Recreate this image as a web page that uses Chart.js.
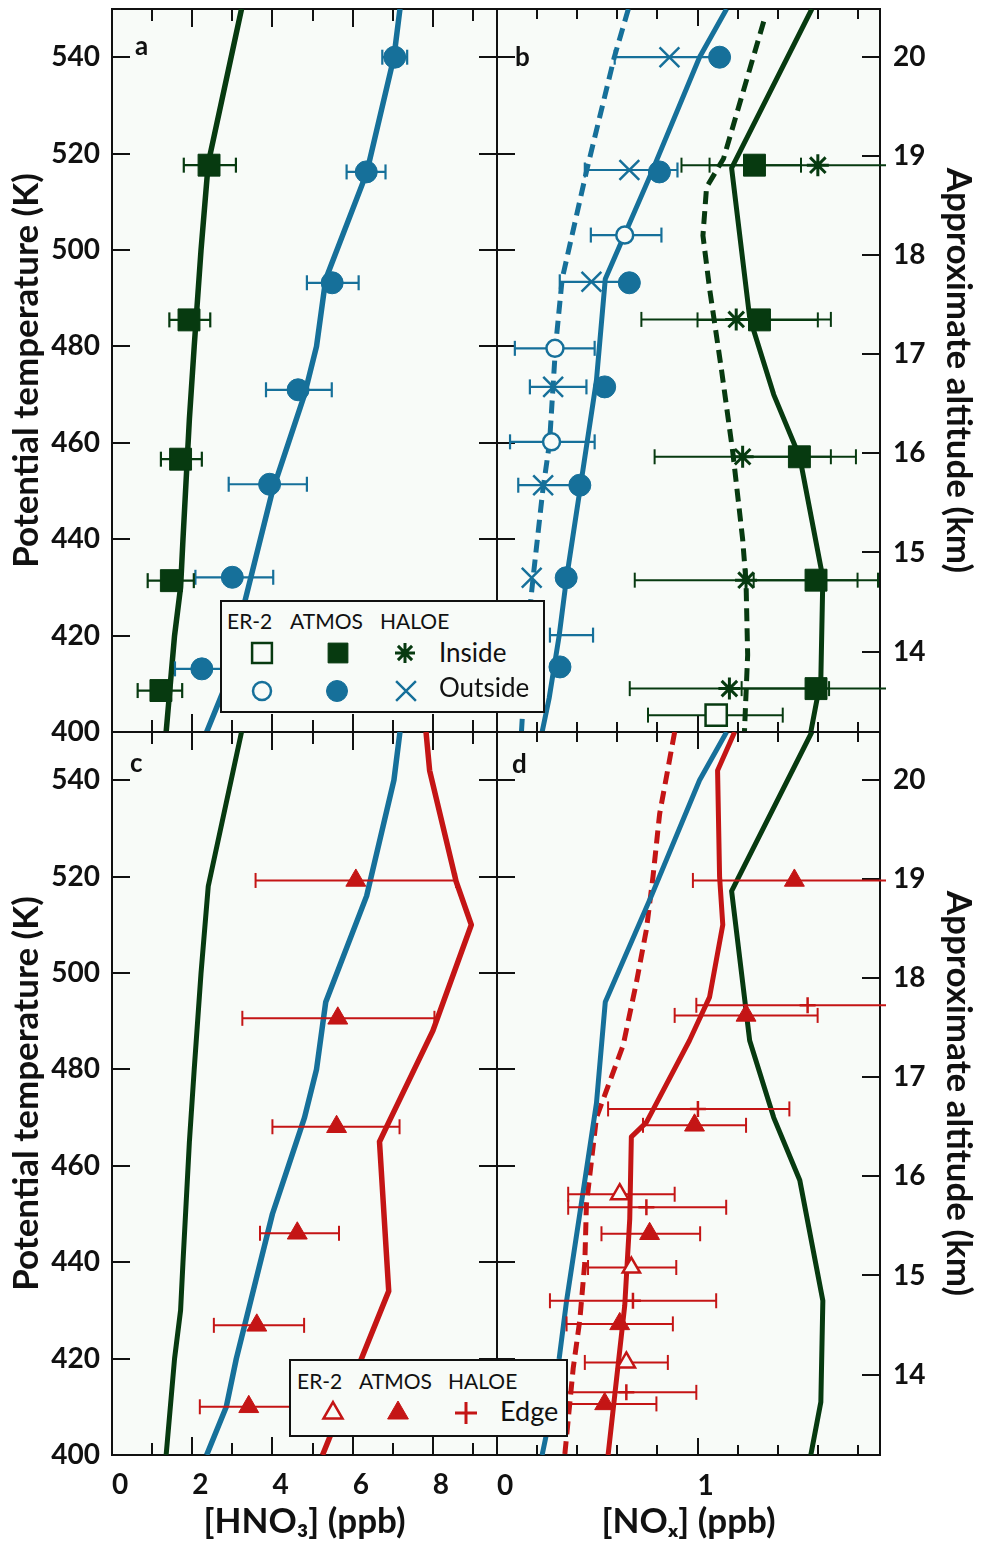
<!DOCTYPE html>
<html><head><meta charset="utf-8">
<script src="https://cdn.jsdelivr.net/npm/chart.js@4.4.1/dist/chart.umd.min.js"></script>
<style>
html,body{margin:0;padding:0;background:#fff;}
#wrap{position:relative;width:983px;height:1545px;overflow:hidden;}
#wrap canvas.panel{position:absolute;left:0;top:0;}
.t{position:absolute;white-space:nowrap;line-height:1;color:#111;font-family:Lato,"DejaVu Sans",sans-serif;transform:translateY(-50%);}
.lg{position:absolute;box-sizing:border-box;border:2px solid #111;background:#f8fbf8;}
</style></head><body>
<div id="wrap">
<canvas id="pa" class="panel" width="983" height="1545"></canvas>
<canvas id="pb" class="panel" width="983" height="1545"></canvas>
<canvas id="pc" class="panel" width="983" height="1545"></canvas>
<canvas id="pd" class="panel" width="983" height="1545"></canvas>
</div>
<script>
// ---------- axis ticks ----------
const thetaTicks = [400, 420, 440, 460, 480, 500, 520, 540];
const altTicks = [14, 15, 16, 17, 18, 19, 20];
const hno3MajorTicks = [2, 4, 6, 8];
const hno3LabelTicks = [0, 2, 4, 6, 8];
const hno3MinorTicks = [1, 3, 5, 7, 9];
const noxMajorTicks = [1];
const noxLabelTicks = [0, 1];
const noxMinorTicks = [0.2, 0.4, 0.6, 0.8, 1.2, 1.4, 1.6, 1.8];

// ---------- HNO3 (ppb) profiles: [theta K, value] ----------
const hno3AtmosInsideLine = [[550,3.23],[518,2.40],[500,2.22],[480,2.05],[465,1.93],[440,1.77],[430,1.71],[420,1.56],[400,1.35]];
const hno3AtmosOutsideLine = [[550,7.18],[540,7.03],[516,6.35],[494,5.33],[480,5.10],[470,4.80],[460,4.40],[450,4.00],[440,3.70],[420,3.10],[410,2.85],[400,2.36]];
const hno3AtmosEdgeLine = [[550,7.83],[542,7.92],[519,8.58],[510,8.96],[488,8.00],[469,6.90],[465,6.67],[434,6.90],[400,5.25]];
// markers: [theta, value, low, high]
const hno3AtmosInsidePts = [[517.6,2.42,1.79,3.09],[485.5,1.92,1.43,2.45],[456.6,1.71,1.22,2.24],[431.4,1.48,0.89,2.04],[408.6,1.22,0.64,1.75]];
const hno3AtmosOutsidePts = [[540,7.05,6.74,7.36],[516.2,6.34,5.85,6.82],[493.2,5.49,4.86,6.15],[471.0,4.64,3.84,5.48],[451.4,3.93,2.91,4.86],[432.1,3.00,2.08,4.02],[413.1,2.24,1.57,2.91]];
const hno3AtmosEdgePts = [[519.2,6.08,3.58,8.58],[490.6,5.63,3.25,8.04],[468.1,5.60,4.00,7.17],[446.0,4.62,3.69,5.66],[426.9,3.61,2.54,4.79],[410.0,3.41,2.19,4.63]];

// ---------- NOx (ppb) profiles ----------
const noxAtmosInsideLine = [[550,1.57],[517,1.17],[486,1.26],[470,1.38],[457,1.51],[432,1.625],[411,1.615],[400,1.565]];
const noxHaloeInsideLine = [[547.4,1.33],[519,1.13],[513,1.045],[503,1.027],[492,1.06],[475,1.12],[458,1.176],[440,1.225],[431,1.242],[416,1.25],[400,1.234]];
const noxAtmosOutsideLine = [[550,1.145],[540,1.01],[516,0.77],[494,0.54],[473,0.496],[452,0.42],[432,0.347],[420,0.31],[407,0.26],[400,0.225]];
const noxHaloeOutsideLine = [[550,0.655],[540,0.585],[517,0.45],[494,0.325],[480,0.292],[470,0.277],[460,0.262],[450,0.228],[432,0.18],[420,0.15],[400,0.122]];
const noxAtmosEdgeLine = [[550,1.185],[542,1.10],[520,1.11],[510,1.126],[495,1.06],[486,0.96],[469,0.745],[466,0.67],[449,0.662],[431,0.637],[400,0.554]];
const noxHaloeEdgeLine = [[550,0.886],[533,0.811],[520,0.778],[509,0.745],[498,0.695],[485,0.629],[470,0.496],[452,0.446],[440,0.438],[428,0.413],[418,0.38],[400,0.338]];
const noxAtmosInsidePts = [[517.6,1.284,1.06,1.516],[485.5,1.309,1.00,1.60],[457.1,1.508,1.226,1.79],[431.5,1.591,1.28,1.90],[409.0,1.591,1.22,1.96]];
const noxHaloeInsidePts = [[517.6,1.60,0.92,2.28],[485.6,1.193,0.72,1.665],[457.1,1.225,0.786,1.665],[431.5,1.242,0.687,1.798],[409.0,1.159,0.662,1.656]];
const noxEr2InsidePts = [[403.5,1.093,0.753,1.425]];
const noxAtmosOutsidePts = [[540,1.11,null,null],[516.2,0.81,null,null],[493.2,0.66,null,null],[471.6,0.537,null,null],[451.2,0.413,null,null],[432,0.345,null,null],[413.5,0.314,null,null]];
const noxHaloeOutsidePts = [[540,0.86,0.587,1.13],[516.6,0.66,0.438,0.90],[493.4,0.471,0.313,0.63],[471.6,0.28,0.164,0.446],[451.2,0.23,0.106,0.40],[432,0.173,null,null]];
const noxEr2OutsidePts = [[503.1,0.637,0.468,0.82],[479.6,0.289,0.089,0.487],[460.2,0.272,0.065,0.487],[420.1,null,0.264,0.479]];
const noxAtmosEdgePts = [[519.2,1.483,0.977,1.99],[491.2,1.242,0.886,1.599],[468.4,0.985,0.728,1.242],[445.9,0.761,0.521,1.013],[427.2,0.612,0.347,0.877],[410.6,0.537,0.28,0.795]];
const noxEr2EdgePts = [[454.1,0.612,0.355,0.886],[438.9,0.67,0.454,0.894],[419.2,0.645,0.438,0.852]];
const noxHaloeEdgePts = [[493.3,1.549,0.994,2.10],[471.8,1.002,0.554,1.458],[451.4,0.745,0.355,1.143],[432.0,0.678,0.264,1.093],[413.0,0.645,0.296,0.994]];

// ---------- styling ----------
const GREEN = '#073a10', BLUE = '#16709a', RED = '#c41515', BLACK = '#111', PLOT_BG = '#f8fbf8';
const FONT = 'Lato, "DejaVu Sans", sans-serif';
const TICK_FONT = { family: FONT, size: 28, weight: 'bold', lineHeight: 1.2 };
const TITLE_FONT = { family: FONT, size: 35, weight: 'bold', lineHeight: 1.2 };

function mkAxis(o) {
  const horiz = o.position === 'top' || o.position === 'bottom';
  return {
    type: 'linear', position: o.position, axis: horiz ? 'x' : 'y',
    min: o.min, max: o.max, weight: o.weight || 0,
    afterBuildTicks: s => { s.ticks = o.ticks.map(v => ({ value: v })); },
    afterFit: s => {
      if (horiz) s.height = o.size || 0; else s.width = o.size || 0;
      s.paddingTop = 0; s.paddingBottom = 0; s.paddingLeft = 0; s.paddingRight = 0;
    },
    grid: { display: true, drawOnChartArea: false, drawTicks: true, tickLength: -o.len, tickColor: BLACK, tickWidth: 2, color: BLACK, lineWidth: 2 },
    border: { display: true, color: BLACK, width: 2 },
    ticks: o.labels ? { display: true, autoSkip: false, maxRotation: 0, minRotation: 0, padding: o.pad, align: o.align || 'center', color: BLACK, font: TICK_FONT, callback: v => String(v) } : { display: false },
    title: o.title ? { display: true, text: o.title, color: BLACK, font: TITLE_FONT, padding: o.tpad } : { display: false }
  };
}

function scalesFor(kind, row) {
  const isH = kind === 'hno3';
  const xr = isH ? { min: 0, max: 9.6 } : { min: 0, max: 1.91 };
  const major = isH ? hno3MajorTicks : noxMajorTicks;
  const labelT = isH ? hno3LabelTicks : noxLabelTicks;
  const minor = isH ? hno3MinorTicks : noxMinorTicks;
  const majLen = isH ? 18 : 17, minLen = isH ? 12 : 10;
  const lab = row === 'bottom';
  const s = {};
  s.x = mkAxis({ position: 'bottom', ...xr, ticks: lab ? labelT : major, len: majLen, size: lab ? 90 : 0, labels: lab, pad: 31, align: 'start',
    title: lab ? (isH ? '[HNO\u2083] (ppb)' : '[NO\u2093] (ppb)') : null, tpad: { top: 0, bottom: 2 }, weight: 1 });
  s.xb2 = mkAxis({ position: 'bottom', ...xr, ticks: minor, len: minLen, weight: 0 });
  s.xt1 = mkAxis({ position: 'top', ...xr, ticks: major, len: majLen });
  s.xt2 = mkAxis({ position: 'top', ...xr, ticks: minor, len: minLen });
  if (isH) {
    s.y = mkAxis({ position: 'left', min: 400, max: 550, ticks: thetaTicks, len: 18, size: 112, labels: true, pad: 30,
      title: 'Potential temperature (K)', tpad: { top: 6, bottom: 0 } });
    s.yr = mkAxis({ position: 'right', min: 400, max: 550, ticks: thetaTicks, len: 18 });
  } else {
    s.y = mkAxis({ position: 'left', min: 400, max: 550, ticks: thetaTicks, len: 18 });
    s.alt = mkAxis({ position: 'right', min: 13.19, max: 20.48, ticks: altTicks, len: 18, size: 103, labels: true, pad: 31,
      title: 'Approximate altitude (km)', tpad: { top: 4, bottom: 0 } });
  }
  return s;
}

const ln = arr => arr.map(p => ({ x: p[1], y: p[0] }));
const pt = arr => arr.filter(p => p[1] != null).map(p => ({ x: p[1], y: p[0] }));
const errs = arr => { const out = []; arr.forEach(p => { if (p[2] == null) return; out.push({ x: p[2], y: p[0] }, { x: p[3], y: p[0] }, { x: null, y: null }); }); return out; };

function lineDS(arr, color, dashed, w) {
  return { data: ln(arr), showLine: true, borderColor: color, borderWidth: w || 5, borderDash: dashed ? [13, 7] : [],
    pointRadius: 0, fill: false, order: 3, borderJoinStyle: 'round', borderCapStyle: 'butt', clip: 0 };
}
function barDS(arr, color, w) {
  return { data: errs(arr), showLine: true, spanGaps: false, borderColor: color, borderWidth: w || 2,
    pointStyle: 'line', pointRotation: 90, pointRadius: 7.5, pointBorderColor: color, pointBorderWidth: w || 2,
    pointBackgroundColor: color, order: 2, clip: { left: 0, top: 10, right: 6, bottom: 10 } };
}
function markDS(arr, style, r, fill, stroke, bw) {
  return { data: pt(arr), showLine: false, pointStyle: style, pointRadius: r, pointBackgroundColor: fill,
    pointBorderColor: stroke, pointBorderWidth: bw, order: 1, clip: false };
}

const bgPlugin = { id: 'plotbg', beforeDraw(chart) { const { ctx, chartArea: a } = chart; ctx.save(); ctx.fillStyle = PLOT_BG; ctx.fillRect(a.left, a.top, a.right - a.left, a.bottom - a.top); ctx.restore(); } };

function makeChart(id, datasets, scales, padding) {
  return new Chart(document.getElementById(id), {
    type: 'scatter',
    data: { datasets },
    options: {
      responsive: false, animation: false, events: [],
      plugins: { legend: { display: false }, tooltip: { enabled: false } },
      layout: { autoPadding: false, padding },
      scales
    },
    plugins: [bgPlugin]
  });
}

const wrap = document.getElementById('wrap');
function txt(s, x, y, size, weight) {
  const d = document.createElement('div'); d.className = 't'; d.textContent = s;
  d.style.left = x + 'px'; d.style.top = y + 'px'; d.style.fontSize = size + 'px'; d.style.fontWeight = weight || 400;
  wrap.appendChild(d); return d;
}
function box(x, y, w, h) { const d = document.createElement('div'); d.className = 'lg'; d.style.cssText = `left:${x}px;top:${y}px;width:${w}px;height:${h}px;`; wrap.appendChild(d); }
function sym(x, y, style, r, fill, stroke, bw) {
  const c = document.createElement('canvas'); c.width = 44; c.height = 44;
  c.style.cssText = `position:absolute;left:${x - 22}px;top:${y - 22}px;`;
  const ctx = c.getContext('2d'); ctx.fillStyle = fill; ctx.strokeStyle = stroke; ctx.lineWidth = bw;
  Chart.helpers.drawPoint(ctx, { pointStyle: style, radius: r, rotation: 0, borderWidth: bw }, 22, 22);
  wrap.appendChild(c);
}

function draw() {
  Chart.defaults.font.family = FONT;
  makeChart('pa', [
    markDS(hno3AtmosInsidePts, 'rect', 15.5, GREEN, GREEN, 1),
    markDS(hno3AtmosOutsidePts, 'circle', 11, BLUE, BLUE, 1),
    barDS(hno3AtmosInsidePts, GREEN, 2.2),
    barDS(hno3AtmosOutsidePts, BLUE, 2.2),
    lineDS(hno3AtmosInsideLine, GREEN, false, 5.5),
    lineDS(hno3AtmosOutsideLine, BLUE, false, 5.5)
  ], scalesFor('hno3', 'top'), { left: 0, top: 9, right: 486, bottom: 813 });
  makeChart('pb', [
    markDS(noxAtmosInsidePts, 'rect', 15.5, GREEN, GREEN, 1),
    markDS(noxHaloeInsidePts, 'star', 11, GREEN, GREEN, 3),
    markDS(noxEr2InsidePts, 'rect', 15, PLOT_BG, GREEN, 2.5),
    markDS(noxAtmosOutsidePts, 'circle', 11, BLUE, BLUE, 1),
    markDS(noxHaloeOutsidePts, 'crossRot', 14, BLUE, BLUE, 2.5),
    markDS(noxEr2OutsidePts, 'circle', 8.5, PLOT_BG, BLUE, 2.5),
    barDS(noxAtmosInsidePts, GREEN, 2),
    barDS(noxHaloeInsidePts, GREEN, 2),
    barDS(noxEr2InsidePts, GREEN, 2),
    barDS(noxHaloeOutsidePts, BLUE, 2.2),
    barDS(noxEr2OutsidePts, BLUE, 2.2),
    lineDS(noxAtmosInsideLine, GREEN, false, 5),
    lineDS(noxHaloeInsideLine, GREEN, true, 5),
    lineDS(noxAtmosOutsideLine, BLUE, false, 5),
    lineDS(noxHaloeOutsideLine, BLUE, true, 5)
  ], scalesFor('nox', 'top'), { left: 497, top: 9, right: 0, bottom: 813 });
  makeChart('pc', [
    markDS(hno3AtmosEdgePts, 'triangle', 11.5, RED, RED, 1),
    barDS(hno3AtmosEdgePts, RED, 2),
    lineDS(hno3AtmosInsideLine, GREEN, false, 5),
    lineDS(hno3AtmosOutsideLine, BLUE, false, 5.5),
    lineDS(hno3AtmosEdgeLine, RED, false, 5.5)
  ], scalesFor('hno3', 'bottom'), { left: 0, top: 732, right: 486, bottom: 0 });
  makeChart('pd', [
    markDS(noxAtmosEdgePts, 'triangle', 11.5, RED, RED, 1),
    markDS(noxEr2EdgePts, 'triangle', 10, PLOT_BG, RED, 2.5),
    markDS(noxHaloeEdgePts, 'cross', 8, RED, RED, 2.5),
    barDS(noxAtmosEdgePts, RED, 2),
    barDS(noxEr2EdgePts, RED, 2),
    barDS(noxHaloeEdgePts, RED, 2),
    lineDS(noxAtmosInsideLine, GREEN, false, 5),
    lineDS(noxAtmosOutsideLine, BLUE, false, 5),
    lineDS(noxAtmosEdgeLine, RED, false, 5),
    lineDS(noxHaloeEdgeLine, RED, true, 5)
  ], scalesFor('nox', 'bottom'), { left: 497, top: 732, right: 0, bottom: 0 });

  txt('a', 135, 45, 26, 700);
  txt('b', 515, 56, 26, 700);
  txt('c', 130, 762, 26, 700);
  txt('d', 512, 763, 26, 700);

  box(220, 600, 325, 113);
  txt('ER-2', 227, 620, 21); txt('ATMOS', 290, 620, 21); txt('HALOE', 380, 620, 21);
  sym(262, 653, 'rect', 14, PLOT_BG, GREEN, 2.5);
  sym(338, 653, 'rect', 14, GREEN, GREEN, 1);
  sym(405, 653, 'star', 10, GREEN, GREEN, 3);
  txt('Inside', 439, 652, 26);
  sym(262, 691, 'circle', 9, PLOT_BG, BLUE, 2.5);
  sym(337, 691, 'circle', 10.5, BLUE, BLUE, 1);
  sym(406, 691, 'crossRot', 14, BLUE, BLUE, 2.5);
  txt('Outside', 439, 687, 26);

  box(289, 1359, 279, 78);
  txt('ER-2', 297, 1380, 21); txt('ATMOS', 359, 1380, 21); txt('HALOE', 448, 1380, 21);
  sym(333, 1413, 'triangle', 11, PLOT_BG, RED, 2.5);
  sym(398, 1413, 'triangle', 12, RED, RED, 1);
  sym(466, 1413, 'cross', 11, RED, RED, 3);
  txt('Edge', 500, 1410, 27);
}

Promise.all([
  document.fonts.load('bold 28px Lato'),
  document.fonts.load('21px Lato')
]).catch(() => {}).then(draw);
</script>
</body></html>
